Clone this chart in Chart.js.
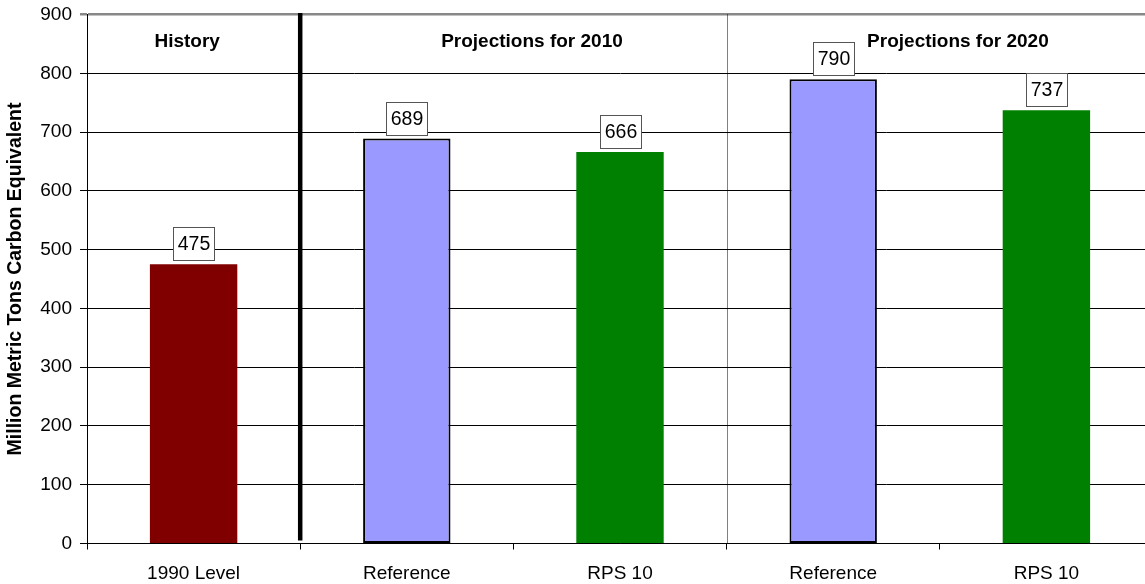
<!DOCTYPE html>
<html>
<head>
<meta charset="utf-8">
<script src="https://cdn.jsdelivr.net/npm/chart.js@4"></script>
<style>
  html, body { margin: 0; padding: 0; background: #fff; overflow: hidden; }
  #wrap { position: relative; width: 1160px; height: 584px; }
</style>
</head>
<body>
<div id="wrap"><canvas id="chart"></canvas></div>
<script>
// ---------- Data ----------
const CATEGORIES = ['1990 Level', 'Reference', 'RPS 10', 'Reference', 'RPS 10'];
const EMISSIONS = [475, 689, 666, 790, 737];
const BAR_COLORS = ['#800000', '#9999FF', '#008000', '#9999FF', '#008000'];
const BAR_BORDERS = [0, 2, 0, 2, 0];
const SECTIONS = [
  { label: 'History', at: -0.03 },
  { label: 'Projections for 2010', at: 1.587 },
  { label: 'Projections for 2020', at: 3.585 },
];
const Y_MAX = 900;
const Y_STEP = 100;

const FONT = 'Arial, "Liberation Sans", sans-serif';

// section dividers, headers and value boxes
const overlay = {
  id: 'overlay',
  afterDatasetsDraw(chart) {
    const { ctx, chartArea, scales: { x, y } } = chart;
    const step = x.getPixelForValue(1) - x.getPixelForValue(0);
    const mid = i => x.getPixelForValue(i) + step / 2;
    ctx.save();

    // solid divider between history and projections
    ctx.strokeStyle = '#000';
    ctx.lineWidth = 4.5;
    const xa = mid(0);
    ctx.beginPath();
    ctx.moveTo(xa, chartArea.top - 1.5);
    ctx.lineTo(xa, chartArea.bottom - 3);
    ctx.stroke();

    // dotted divider between 2010 and 2020
    ctx.lineWidth = 1;
    ctx.setLineDash([1, 1]);
    const xb = Math.round(mid(2)) + 0.5;
    ctx.beginPath();
    ctx.moveTo(xb, chartArea.top);
    ctx.lineTo(xb, chartArea.bottom);
    ctx.stroke();
    ctx.setLineDash([]);

    // section headers
    ctx.fillStyle = '#000';
    ctx.font = 'bold 19px ' + FONT;
    ctx.textAlign = 'center';
    ctx.textBaseline = 'middle';
    SECTIONS.forEach(s => {
      ctx.fillText(s.label, x.getPixelForValue(0) + s.at * step, 42);
    });

    // value boxes above bars
    ctx.font = '19.5px ' + FONT;
    const meta = chart.getDatasetMeta(0);
    meta.data.forEach((bar, i) => {
      const txt = String(EMISSIONS[i]);
      const w = Math.round(ctx.measureText(txt).width + 8);
      const h = 33;
      const bx = Math.round(bar.x - w / 2) + 0.5;
      const by = Math.round(bar.y - 4 - h) + 0.5;
      ctx.fillStyle = '#fff';
      ctx.fillRect(bx, by, w, h);
      ctx.strokeStyle = '#555';
      ctx.lineWidth = 1;
      ctx.strokeRect(bx, by, w, h);
      ctx.fillStyle = '#000';
      ctx.fillText(txt, bx + w / 2, by + h / 2 + 1);
    });
    ctx.restore();
  }
};

new Chart(document.getElementById('chart'), {
  type: 'bar',
  data: {
    labels: CATEGORIES,
    datasets: [{
      data: EMISSIONS,
      backgroundColor: BAR_COLORS,
      borderColor: '#000',
      borderWidth: BAR_BORDERS,
      borderSkipped: false,
      barPercentage: 0.41,
      categoryPercentage: 1,
    }]
  },
  options: {
    responsive: true,
    maintainAspectRatio: false,
    animation: false,
    layout: { padding: { top: 14.5, right: 7, left: 0, bottom: 0 } },
    plugins: { legend: { display: false }, tooltip: { enabled: false } },
    scales: {
      x: {
        afterFit: s => { s.height = 40.5; },
        border: { color: '#000', width: 1 },
        grid: { drawOnChartArea: false, drawTicks: true, tickLength: 6, color: '#000', offset: true },
        ticks: { color: '#000', font: { family: FONT, size: 19 }, padding: 13, maxRotation: 0 },
      },
      y: {
        min: 0,
        max: Y_MAX,
        afterFit: s => { s.width = 87; },
        border: { color: '#000', width: 1 },
        grid: {
          color: ctx => ctx.tick && ctx.tick.value === Y_MAX ? '#888' : '#000',
          lineWidth: ctx => ctx.tick && ctx.tick.value === Y_MAX ? 2.5 : 1,
          tickLength: 7,
        },
        ticks: { stepSize: Y_STEP, color: '#000', font: { family: FONT, size: 19, lineHeight: 0.6 }, padding: 8 },
        title: {
          display: true,
          text: 'Million Metric Tons Carbon Equivalent',
          color: '#000',
          font: { family: FONT, size: 19.5, weight: 'bold' },
          padding: { top: 4, bottom: 0 },
        },
      },
    },
  },
  plugins: [overlay],
});
</script>
</body>
</html>
